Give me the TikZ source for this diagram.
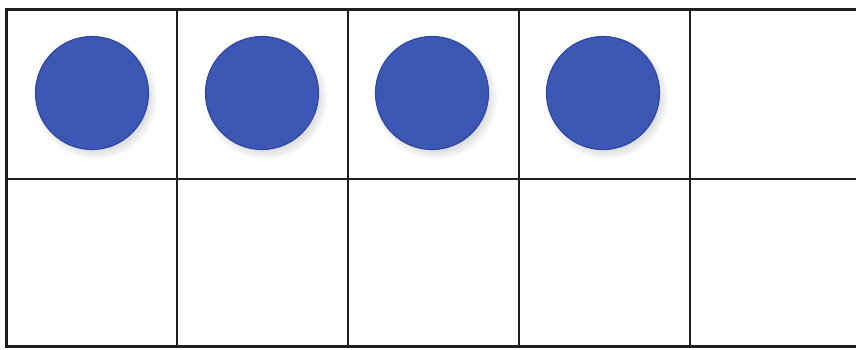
\documentclass[tikz,border=0pt]{standalone}
\usetikzlibrary{shadows}
\definecolor{counterblue}{RGB}{60,88,180}
\definecolor{counteredge}{RGB}{48,72,160}
\definecolor{gridline}{RGB}{30,30,30}
\tikzset{
  counter/.style={circle, minimum size=113pt, inner sep=0pt, draw=counteredge, line width=1.2pt,
    fill=counterblue,
    circular drop shadow={shadow xshift=3pt, shadow yshift=-4pt, fill=black!40, opacity=0.3}},
  thin grid/.style={draw=gridline, line width=1.6pt},
  thick grid/.style={draw=gridline, line width=3pt}
}
\begin{document}
\begin{tikzpicture}[x=1pt,y=-1pt]
\useasboundingbox (0,0) rectangle (856,349);
\fill[white] (0,0) rectangle (856,349);
% counters
\node[counter] (c1) at (92,93) {};
\node[counter] (c2) at (262,93) {};
\node[counter] (c3) at (432,93) {};
\node[counter] (c4) at (603,93) {};
% grid
\coordinate (tl) at (6,9);
\coordinate (bl) at (6,346);
\draw[thin grid] (177,9) -- (177,346);
\draw[thin grid] (348,9) -- (348,346);
\draw[thin grid] (519,9) -- (519,346);
\draw[thin grid] (690,9) -- (690,346);
\draw[thin grid] (6,179) -- (860,179);
\draw[thick grid] (860,9) -- (tl) -- (bl) -- (860,346);
\end{tikzpicture}
\end{document}
